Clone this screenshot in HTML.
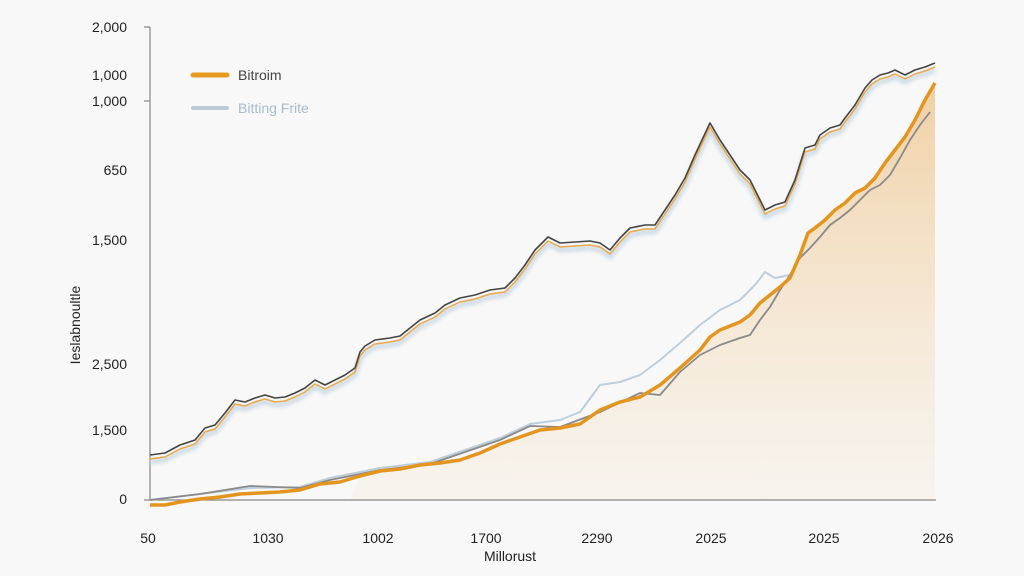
<!DOCTYPE html><html><head><style>body{margin:0;background:#f7f7f7}svg{display:block}text{font-family:"Liberation Sans",sans-serif;fill:#222}</style></head><body>
<svg width="1024" height="576" viewBox="0 0 1024 576">
<defs><linearGradient id="g" x1="0" y1="0" x2="0" y2="1"><stop offset="0" stop-color="#f0d0a4"/><stop offset="1" stop-color="#f7efe3" stop-opacity="0.5"/></linearGradient>
<filter id="b"><feGaussianBlur stdDeviation="2"/></filter></defs>
<rect width="1024" height="576" fill="#f8f8f8"/>
<polygon fill="url(#g)" points="350,500 360,476 380,471 400,469 420,465 440,463 460,460 480,453 500,444 520,437 540,430 560,428 580,424 600,410 620,402 640,397 660,385 680,368 700,350 710,337 720,330 740,322 750,315 760,303 770,295 780,287 790,278 800,255 808,233 815,228 825,220 835,210 845,203 855,193 865,188 875,178 885,163 895,150 905,137 915,120 925,100 935,83 935,500"/>
<g stroke="#888" stroke-width="1.2" fill="none"><path d="M150,27V500H936"/><path d="M144,27H150M144,101H150M144,500H150"/></g>
<g font-size="14" text-anchor="end"><text x="127" y="32">2,000</text><text x="127" y="80">1,000</text><text x="127" y="106">1,000</text><text x="127" y="175">650</text><text x="127" y="245">1,500</text><text x="127" y="369">2,500</text><text x="127" y="435">1,500</text><text x="127" y="504">0</text></g>
<text transform="translate(80,325) rotate(-90)" font-size="14" text-anchor="middle">Ieslabnoultle</text>
<g font-size="14" text-anchor="middle"><text x="148" y="543">50</text><text x="268" y="543">1030</text><text x="378" y="543">1002</text><text x="486" y="543">1700</text><text x="597" y="543">2290</text><text x="711" y="543">2025</text><text x="824" y="543">2025</text><text x="938" y="543">2026</text><text x="510" y="561">Millorust</text></g>
<line x1="193" y1="75" x2="227" y2="75" stroke="#e69a22" stroke-width="5" stroke-linecap="round"/><text x="238" y="80" font-size="14" style="fill:#444">Bitroim</text>
<line x1="193" y1="108" x2="227" y2="108" stroke="#bccbd8" stroke-width="4" stroke-linecap="round"/><text x="238" y="113" font-size="14" style="fill:#a8bccc">Bitting Frite</text>
<g fill="none" stroke-linejoin="round">
<polyline id="u" filter="url(#b)" stroke="#c5d4e0" stroke-width="4" transform="translate(0,7)" points="150,455 165,453 180,445 195,440 205,428 215,425 225,413 235,400 245,402 255,398 265,395 275,398 285,397 295,393 305,388 315,380 325,385 335,380 345,375 355,368 360,352 365,346 375,340 390,338 400,336 410,328 420,320 435,313 445,305 460,298 475,295 490,290 505,288 515,278 525,265 535,250 548,237 560,243 575,242 590,241 600,243 610,250 620,238 630,228 645,225 655,225 665,210 675,195 685,178 695,155 710,123 720,140 730,155 740,170 750,180 760,200 765,210 775,205 785,202 795,180 805,148 815,145 820,135 830,128 840,125 845,118 855,105 865,88 872,80 880,75 888,73 895,70 905,75 915,70 925,67 935,63"/>
<polyline stroke="#e9a84a" stroke-width="1.5" transform="translate(0,4)" points="150,455 165,453 180,445 195,440 205,428 215,425 225,413 235,400 245,402 255,398 265,395 275,398 285,397 295,393 305,388 315,380 325,385 335,380 345,375 355,368 360,352 365,346 375,340 390,338 400,336 410,328 420,320 435,313 445,305 460,298 475,295 490,290 505,288 515,278 525,265 535,250 548,237 560,243 575,242 590,241 600,243 610,250 620,238 630,228 645,225 655,225 665,210 675,195 685,178 695,155 710,123 720,140 730,155 740,170 750,180 760,200 765,210 775,205 785,202 795,180 805,148 815,145 820,135 830,128 840,125 845,118 855,105 865,88 872,80 880,75 888,73 895,70 905,75 915,70 925,67 935,63"/>
<polyline stroke="#444" stroke-width="1.6" points="150,455 165,453 180,445 195,440 205,428 215,425 225,413 235,400 245,402 255,398 265,395 275,398 285,397 295,393 305,388 315,380 325,385 335,380 345,375 355,368 360,352 365,346 375,340 390,338 400,336 410,328 420,320 435,313 445,305 460,298 475,295 490,290 505,288 515,278 525,265 535,250 548,237 560,243 575,242 590,241 600,243 610,250 620,238 630,228 645,225 655,225 665,210 675,195 685,178 695,155 710,123 720,140 730,155 740,170 750,180 760,200 765,210 775,205 785,202 795,180 805,148 815,145 820,135 830,128 840,125 845,118 855,105 865,88 872,80 880,75 888,73 895,70 905,75 915,70 925,67 935,63"/>
<polyline stroke="#bfcedb" stroke-width="2" points="150,500 200,494 250,488 300,487 330,478 380,468 430,462 500,438 530,424 560,420 580,412 600,385 620,382 640,375 660,360 680,343 700,325 720,310 740,300 755,285 765,272 775,278 790,275"/>
<polyline stroke="#8a8a8a" stroke-width="1.8" points="150,500 200,494 250,486 300,488 330,480 380,470 430,464 500,440 530,426 560,427 600,412 640,393 660,395 680,372 700,355 720,345 740,338 750,335 760,320 770,307 780,290 790,275 800,258 810,248 820,237 830,225 840,218 850,210 860,200 870,190 880,185 890,175 900,158 910,140 920,125 930,112"/>
<polyline stroke="#e3951f" stroke-width="3.5" points="150,505 165,505 180,502 200,499 220,497 240,494 260,493 280,492 300,490 320,484 340,482 360,476 380,471 400,469 420,465 440,463 460,460 480,453 500,444 520,437 540,430 560,428 580,424 600,410 620,402 640,397 660,385 680,368 700,350 710,337 720,330 740,322 750,315 760,303 770,295 780,287 790,278 800,255 808,233 815,228 825,220 835,210 845,203 855,193 865,188 875,178 885,163 895,150 905,137 915,120 925,100 935,83"/>
</g></svg></body></html>
